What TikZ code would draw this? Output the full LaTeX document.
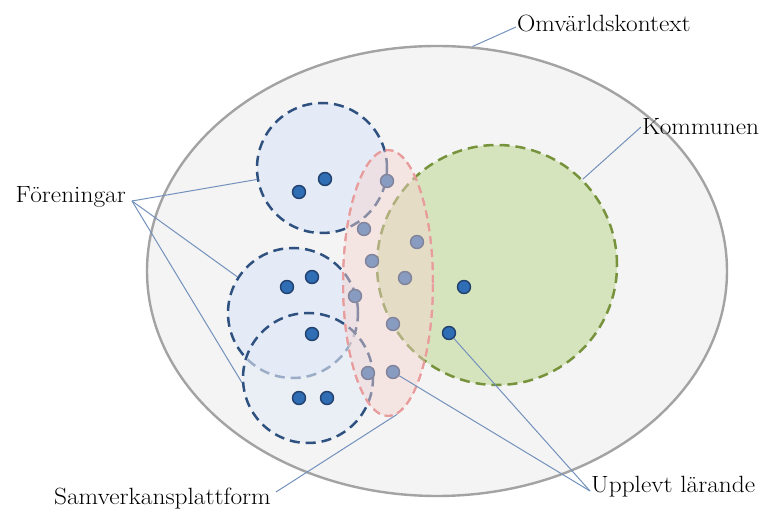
\documentclass[tikz,border=0pt]{standalone}
\usetikzlibrary{shapes.geometric}
\definecolor{outerfill}{HTML}{F4F4F4}
\definecolor{outerdraw}{HTML}{A3A3A3}
\definecolor{bluefill}{HTML}{E4EBF6}
\definecolor{bluedash}{HTML}{2E5180}
\definecolor{greenfill}{HTML}{D6E4BD}
\definecolor{greendash}{HTML}{76933C}
\definecolor{redfill}{HTML}{F6D4D0}
\definecolor{reddash}{HTML}{E89C9C}
\definecolor{dotfill}{HTML}{2F6DB5}
\definecolor{dotdraw}{HTML}{22416E}
\definecolor{leader}{HTML}{7391BC}
\newcommand{\lbltext}[1]{\scalebox{1.08}[1]{#1}}
\begin{document}
\begin{tikzpicture}[x=1pt,y=-1pt,
  outerell/.style={ellipse,draw=outerdraw,fill=outerfill,line width=2.4pt,minimum width=580pt,minimum height=450pt,inner sep=0pt},
  assoc/.style={circle,draw=bluedash,fill=bluefill,line width=2.5pt,dash pattern=on 10pt off 6pt,minimum size=130pt,inner sep=0pt},
  kommun/.style={circle,draw=greendash,fill=greenfill,line width=2.5pt,dash pattern=on 10pt off 6pt,minimum size=240pt,inner sep=0pt},
  samv/.style={ellipse,draw=reddash,fill=redfill,fill opacity=0.45,line width=2pt,dash pattern=on 8pt off 5pt,minimum width=90pt,minimum height=266pt,inner sep=0pt},
  dotnode/.style={circle,draw=dotdraw,fill=dotfill,line width=1.4pt,minimum size=13pt,inner sep=0pt},
  leaderline/.style={draw=leader,line width=1pt},
  lbl/.style={font=\fontsize{23.5}{28}\selectfont,inner sep=1pt}]
\useasboundingbox (0,0) rectangle (769,518);
\node[outerell] (oe) at (437,271) {};
\node[kommun] (gc) at (497,265) {};
\node[assoc] (c1) at (322,168) {};
\node[assoc] (c2) at (293,313) {};
\node[assoc,fill opacity=0.6] (c3) at (308,378) {};
% dots in associations
\node[dotnode] (a1) at (299,192) {};
\node[dotnode] (a2) at (325,179) {};
\node[dotnode] (a3) at (287,287) {};
\node[dotnode] (a4) at (312,277) {};
\node[dotnode] (a5) at (312,334) {};
\node[dotnode] (a6) at (299,398) {};
\node[dotnode] (a7) at (327,398) {};
% dots in platform
\node[dotnode] (p1) at (387,181) {};
\node[dotnode] (p2) at (364,229) {};
\node[dotnode] (p3) at (417,242) {};
\node[dotnode] (p4) at (372,261) {};
\node[dotnode] (p5) at (405,278) {};
\node[dotnode] (p6) at (355,296) {};
\node[dotnode] (p7) at (393,324) {};
\node[dotnode] (p8) at (368,373) {};
\node[dotnode] (p9) at (393,372) {};
% dots in municipality
\node[dotnode] (k1) at (464,287) {};
\node[dotnode] (k2) at (449,333) {};
% platform overlay
\node[samv] (re) at (388,283) {};
\node[samv,fill=none] at (388,283) {};
% labels
\node[lbl,anchor=west] (om) at (516,23) {\lbltext{Omvärldskontext}};
\node[lbl,anchor=west] (ko) at (641,127) {\lbltext{Kommunen}};
\node[lbl,anchor=east] (fo) at (127,197) {\lbltext{Föreningar}};
\node[lbl,anchor=east] (sv) at (272,499) {\lbltext{Samverkansplattform}};
\node[lbl,anchor=west] (ul) at (590,487) {\lbltext{Upplevt lärande}};
\coordinate (svend) at ([xshift=4pt,yshift=7pt]sv.east);
\coordinate (foend) at ([xshift=5pt,yshift=-4pt]fo.east);
% leaders
\draw[leaderline] ([yshift=-4pt]om.west) -- (oe.81);
\draw[leaderline] (ko.west) -- (gc.45);
\draw[leaderline] (foend) -- (c1.190);
\draw[leaderline] (foend) -- (c2.147);
\draw[leaderline] (foend) -- (c3.184);
\draw[leaderline] (svend) -- (re.-86);
\draw[leaderline] ([yshift=-4pt]ul.west) -- (p9);
\draw[leaderline] ([yshift=-4pt]ul.west) -- (k2);
\end{tikzpicture}
\end{document}
